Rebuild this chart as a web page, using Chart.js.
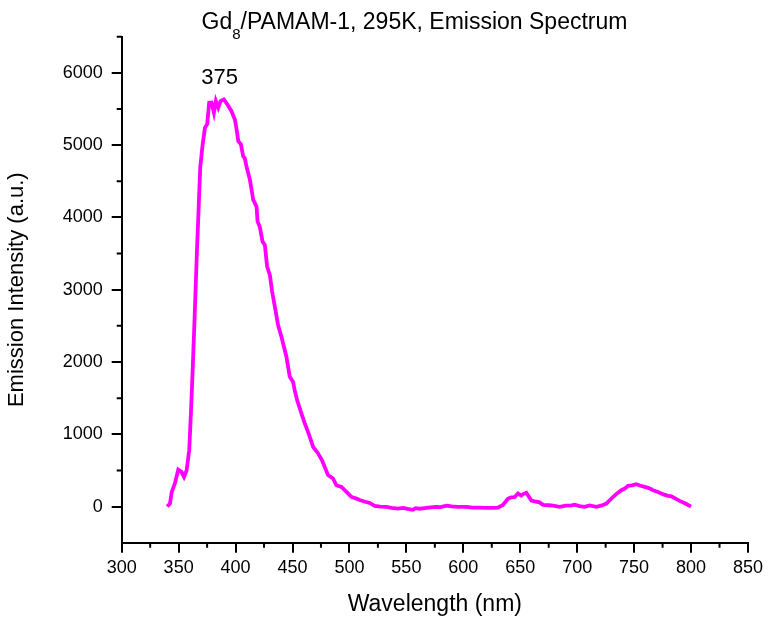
<!DOCTYPE html>
<html>
<head>
<meta charset="utf-8">
<title>Gd8/PAMAM-1 Emission Spectrum</title>
<script src="https://cdn.jsdelivr.net/npm/chart.js@4/dist/chart.umd.min.js"></script>
<style>
  html, body { margin: 0; padding: 0; background: #fff; }
  #wrap { width: 768px; height: 620px; }
</style>
</head>
<body>
<div id="wrap"><canvas id="spectrum" width="768" height="620"></canvas></div>
<script>
// emission spectrum, 295 K
const wavelengths = [
  340, 342.4, 343.9, 346.7, 349.7, 352.5, 354.7, 357, 359.3, 360.8,
  362, 364, 366, 367.5, 369, 371, 373.1, 375.1, 376.8, 378.9,
  381, 382.7, 384.8, 386.8, 389.7, 392.7, 396.4, 399.4, 400.9, 402.4,
  404.7, 406.7, 408.1, 409.6, 412.6, 415.5, 418.4, 419.3, 421.2, 423.7,
  425.7, 427.7, 430.1, 432.1, 434.5, 437.3, 440.3, 444.7, 447.6, 450.5,
  451.9, 454.1, 457.8, 460.8, 464.2, 468.1, 472.5, 475.9, 478.3, 481.2,
  485.6, 488.5, 492.9, 497.4, 501.7, 506.2, 508.9, 513, 517.8, 522.2,
  527, 532.4, 537, 542.6, 547, 551, 555.8, 558, 561.6, 566,
  571, 576.3, 580, 585.2, 590, 595, 602.7, 608, 614.3, 620,
  626, 630.4, 634.8, 639.1, 642, 645.1, 648, 650.9, 653, 655.3,
  659.8, 662.6, 667, 670, 675, 678.8, 684.6, 690, 695, 697.8,
  702, 706.5, 710.9, 716.8, 721, 725.6, 731.4, 735, 738.8, 742,
  744.6, 748, 752, 755, 759.3, 763, 766.6, 771, 775.3, 779,
  782.7, 786, 790, 795, 800
];
const intensity = [
  0, 40, 200, 320, 510, 480, 410, 500, 780, 1295,
  1755, 2600, 3500, 4100, 4700, 5000, 5240, 5290, 5587, 5590,
  5450, 5610, 5520, 5610, 5633, 5565, 5470, 5355, 5220, 5055,
  5010, 4845, 4820, 4705, 4520, 4245, 4150, 3945, 3875, 3665,
  3620, 3320, 3205, 2975, 2765, 2510, 2350, 2070, 1795, 1725,
  1610, 1470, 1290, 1150, 1010, 825, 735, 640, 548, 435,
  388, 295, 272, 202, 133, 110, 90, 70, 50, 10,
  -2, -5, -18, -28, -18, -32, -45, -22, -30, -22,
  -12, -5, -8, 12, 2, -4, -4, -14, -16, -18,
  -18, -16, 22, 108, 126, 132, 180, 152, 176, 190,
  82, 72, 58, 24, 18, 12, -4, 12, 16, 26,
  6, -4, 16, -4, 12, 42, 132, 182, 226, 252,
  286, 292, 310, 292, 272, 256, 226, 202, 172, 152,
  142, 112, 78, 42, 0
];
const xTicks = { min: 300, max: 850, step: 25, major: 50 };
const yTicks = { min: -500, max: 6500, step: 500, major: 1000, labelMin: 0, labelMax: 6000 };
const peakLabel = '375';
const peakLabelAt = { x: 386, y: 5850 };

const FONT = '"Liberation Sans", Arial, sans-serif';
Chart.defaults.font.family = FONT;
Chart.defaults.color = '#000';

const isMajorX = v => v % xTicks.major === 0;
const isMajorY = v => v % yTicks.major === 0 && v >= yTicks.labelMin && v <= yTicks.labelMax;

// title with subscript, peak annotation and short minor ticks
const decorations = {
  id: 'decorations',
  afterDraw(chart) {
    const { ctx, chartArea, scales } = chart;
    ctx.save();
    ctx.fillStyle = '#000';
    ctx.textBaseline = 'alphabetic';

    // title: Gd<sub>8</sub>/PAMAM-1, 295K, Emission Spectrum
    const big = '23px ' + FONT, small = '15px ' + FONT;
    const a = 'Gd', sub = '8', b = '/PAMAM-1, 295K, Emission Spectrum';
    ctx.font = big;
    const wa = ctx.measureText(a).width, wb = ctx.measureText(b).width;
    ctx.font = small;
    const ws = ctx.measureText(sub).width;
    let x = 414.5 - (wa + ws + wb) / 2;
    ctx.textAlign = 'left';
    ctx.font = big;
    ctx.fillText(a, x, 28.5);
    ctx.font = small;
    ctx.fillText(sub, x + wa, 39);
    ctx.font = big;
    ctx.fillText(b, x + wa + ws, 28.5);

    // peak label
    ctx.font = '22px ' + FONT;
    ctx.textAlign = 'center';
    ctx.fillText(peakLabel, scales.x.getPixelForValue(peakLabelAt.x), scales.y.getPixelForValue(peakLabelAt.y));

    // minor ticks
    ctx.strokeStyle = '#000';
    ctx.lineWidth = 2;
    ctx.beginPath();
    scales.x.ticks.forEach(t => {
      if (isMajorX(t.value)) return;
      const px = scales.x.getPixelForValue(t.value);
      ctx.moveTo(px, chartArea.bottom);
      ctx.lineTo(px, chartArea.bottom + 5);
    });
    scales.y.ticks.forEach(t => {
      if (isMajorY(t.value) || t.value === yTicks.min) return;
      const py = scales.y.getPixelForValue(t.value);
      ctx.moveTo(chartArea.left, py);
      ctx.lineTo(chartArea.left - 5, py);
    });
    ctx.stroke();
    ctx.restore();
  }
};

new Chart(document.getElementById('spectrum'), {
  type: 'line',
  data: {
    datasets: [{
      data: wavelengths.map((w, i) => ({ x: w, y: intensity[i] })),
      borderColor: '#ff00ff',
      borderWidth: 3.8,
      pointRadius: 0,
      tension: 0,
      fill: false
    }]
  },
  options: {
    responsive: false,
    animation: false,
    layout: { padding: { top: 36.7, right: 19.3, left: 0, bottom: 0 } },
    plugins: { legend: { display: false }, tooltip: { enabled: false } },
    scales: {
      x: {
        type: 'linear',
        min: xTicks.min,
        max: xTicks.max,
        afterFit: s => { s.height = 77.3; },
        ticks: {
          stepSize: xTicks.step,
          autoSkip: false,
          maxRotation: 0,
          padding: 5,
          font: { size: 18 },
          callback: v => isMajorX(v) ? String(v) : ''
        },
        grid: {
          drawOnChartArea: false,
          tickLength: 10,
          lineWidth: 2,
          tickColor: c => (c.tick && isMajorX(c.tick.value)) ? '#000' : 'rgba(0,0,0,0)'
        },
        border: { color: '#000', width: 2 },
        title: {
          display: true,
          text: 'Wavelength (nm)',
          font: { size: 23 },
          padding: { top: 0, bottom: 2 }
        }
      },
      y: {
        min: yTicks.min,
        max: yTicks.max,
        afterFit: s => { s.width = 121.7; },
        ticks: {
          stepSize: yTicks.step,
          autoSkip: false,
          padding: 9,
          font: { size: 18 },
          callback: v => isMajorY(v) ? String(v) : ''
        },
        grid: {
          drawOnChartArea: false,
          tickLength: 10,
          lineWidth: 2,
          tickColor: c => (c.tick && isMajorY(c.tick.value)) ? '#000' : 'rgba(0,0,0,0)'
        },
        border: { color: '#000', width: 2 },
        title: {
          display: true,
          text: 'Emission Intensity (a.u.)',
          font: { size: 22 },
          padding: { top: 4, bottom: 0 }
        }
      }
    }
  },
  plugins: [decorations]
});
</script>
</body>
</html>
